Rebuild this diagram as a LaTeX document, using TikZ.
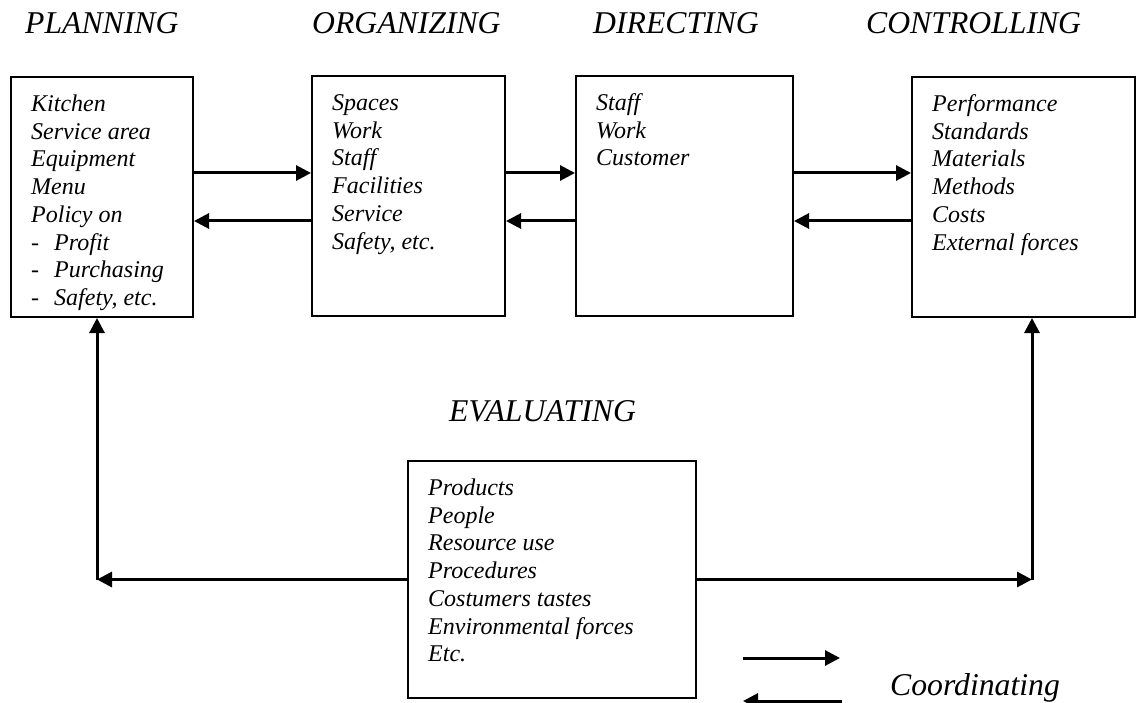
\documentclass[tikz,border=0pt]{standalone}
\usepackage{fontspec}
\setmainfont{Liberation Serif}
\usetikzlibrary{arrows.meta,positioning}

\begin{document}
\begin{tikzpicture}[x=1pt, y=-1pt,
 box/.style={draw, line width=2pt, inner sep=0pt, minimum height=240pt},
 list/.style={anchor=north west, align=left, inner sep=0pt, font=\fontsize{24}{27.7}\selectfont\itshape},
 head/.style={anchor=base west, inner sep=0pt, font=\fontsize{31.7}{36}\selectfont\itshape},
 arr/.style={-{Triangle[length=15pt,width=15pt]}, line width=3pt}]
\useasboundingbox (0,0) rectangle (1137,703);
% headings
\node[head] (hplan) at (25,34) {PLANNING};
\node[head] (horg) at (312,34) {ORGANIZING};
\node[head] (hdir) at (593,34) {DIRECTING};
\node[head] (hctrl) at (866,34) {CONTROLLING};
\node[head] (heval) at (449,421) {EVALUATING};
% boxes
\node[box, minimum width=182pt] (plan) at (102,197) {};
\node[box, minimum width=193pt] (org) at (408.5,196) {};
\node[box, minimum width=217pt] (dir) at (684.5,196) {};
\node[box, minimum width=223pt] (ctrl) at (1023.5,197) {};
\node[box, minimum width=288pt, minimum height=237pt] (eval) at (552,579.5) {};
% box contents
\node[list] (planlist) at ([shift={(21pt,-16pt)}]plan.north west)
 {\strut Kitchen\\Service area\\Equipment\\Menu\\Policy on\\
  \makebox[23pt][l]{-}Profit\\\makebox[23pt][l]{-}Purchasing\\\makebox[23pt][l]{-}Safety, etc.};
\node[list] (orglist) at ([shift={(21pt,-16pt)}]org.north west)
 {\strut Spaces\\Work\\Staff\\Facilities\\Service\\Safety, etc.};
\node[list] (dirlist) at ([shift={(21pt,-16pt)}]dir.north west)
 {\strut Staff\\Work\\Customer};
\node[list] (ctrllist) at ([shift={(21pt,-16pt)}]ctrl.north west)
 {\strut Performance\\Standards\\Materials\\Methods\\Costs\\External forces};
\node[list] (evallist) at ([shift={(21pt,-16pt)}]eval.north west)
 {\strut Products\\People\\Resource use\\Procedures\\Costumers tastes\\Environmental forces\\Etc.};
% arrows between boxes
\draw[arr] ([yshift=24pt]plan.east) -- ([yshift=24pt]plan.east -| org.west);
\draw[arr] ([yshift=-24pt]plan.east -| org.west) -- ([yshift=-24pt]plan.east);
\draw[arr] ([yshift=23pt]org.east) -- ([yshift=23pt]org.east -| dir.west);
\draw[arr] ([yshift=-25pt]org.east -| dir.west) -- ([yshift=-25pt]org.east);
\draw[arr] ([yshift=23pt]dir.east) -- ([yshift=23pt]dir.east -| ctrl.west);
\draw[arr] ([yshift=-25pt]dir.east -| ctrl.west) -- ([yshift=-25pt]dir.east);
% feedback from evaluating
\coordinate (lc) at ([xshift=-5pt]plan.south |- eval.west);
\coordinate (rc) at ([xshift=8.5pt]ctrl.south |- eval.east);
\draw[arr] (eval.west) -- (lc);
\draw[arr] (lc) -- (lc |- plan.south);
\draw[arr] (eval.east) -- (rc);
\draw[arr] (rc) -- (rc |- ctrl.south);
% legend
\node[head] (coord) at (890,695) {Coordinating};
\coordinate (k1) at (743,658);
\coordinate (k2) at (840,658);
\coordinate (k3) at (842,701);
\coordinate (k4) at (743,701);
\draw[arr] (k1) -- (k2);
\draw[arr] (k3) -- (k4);
\end{tikzpicture}
\end{document}
